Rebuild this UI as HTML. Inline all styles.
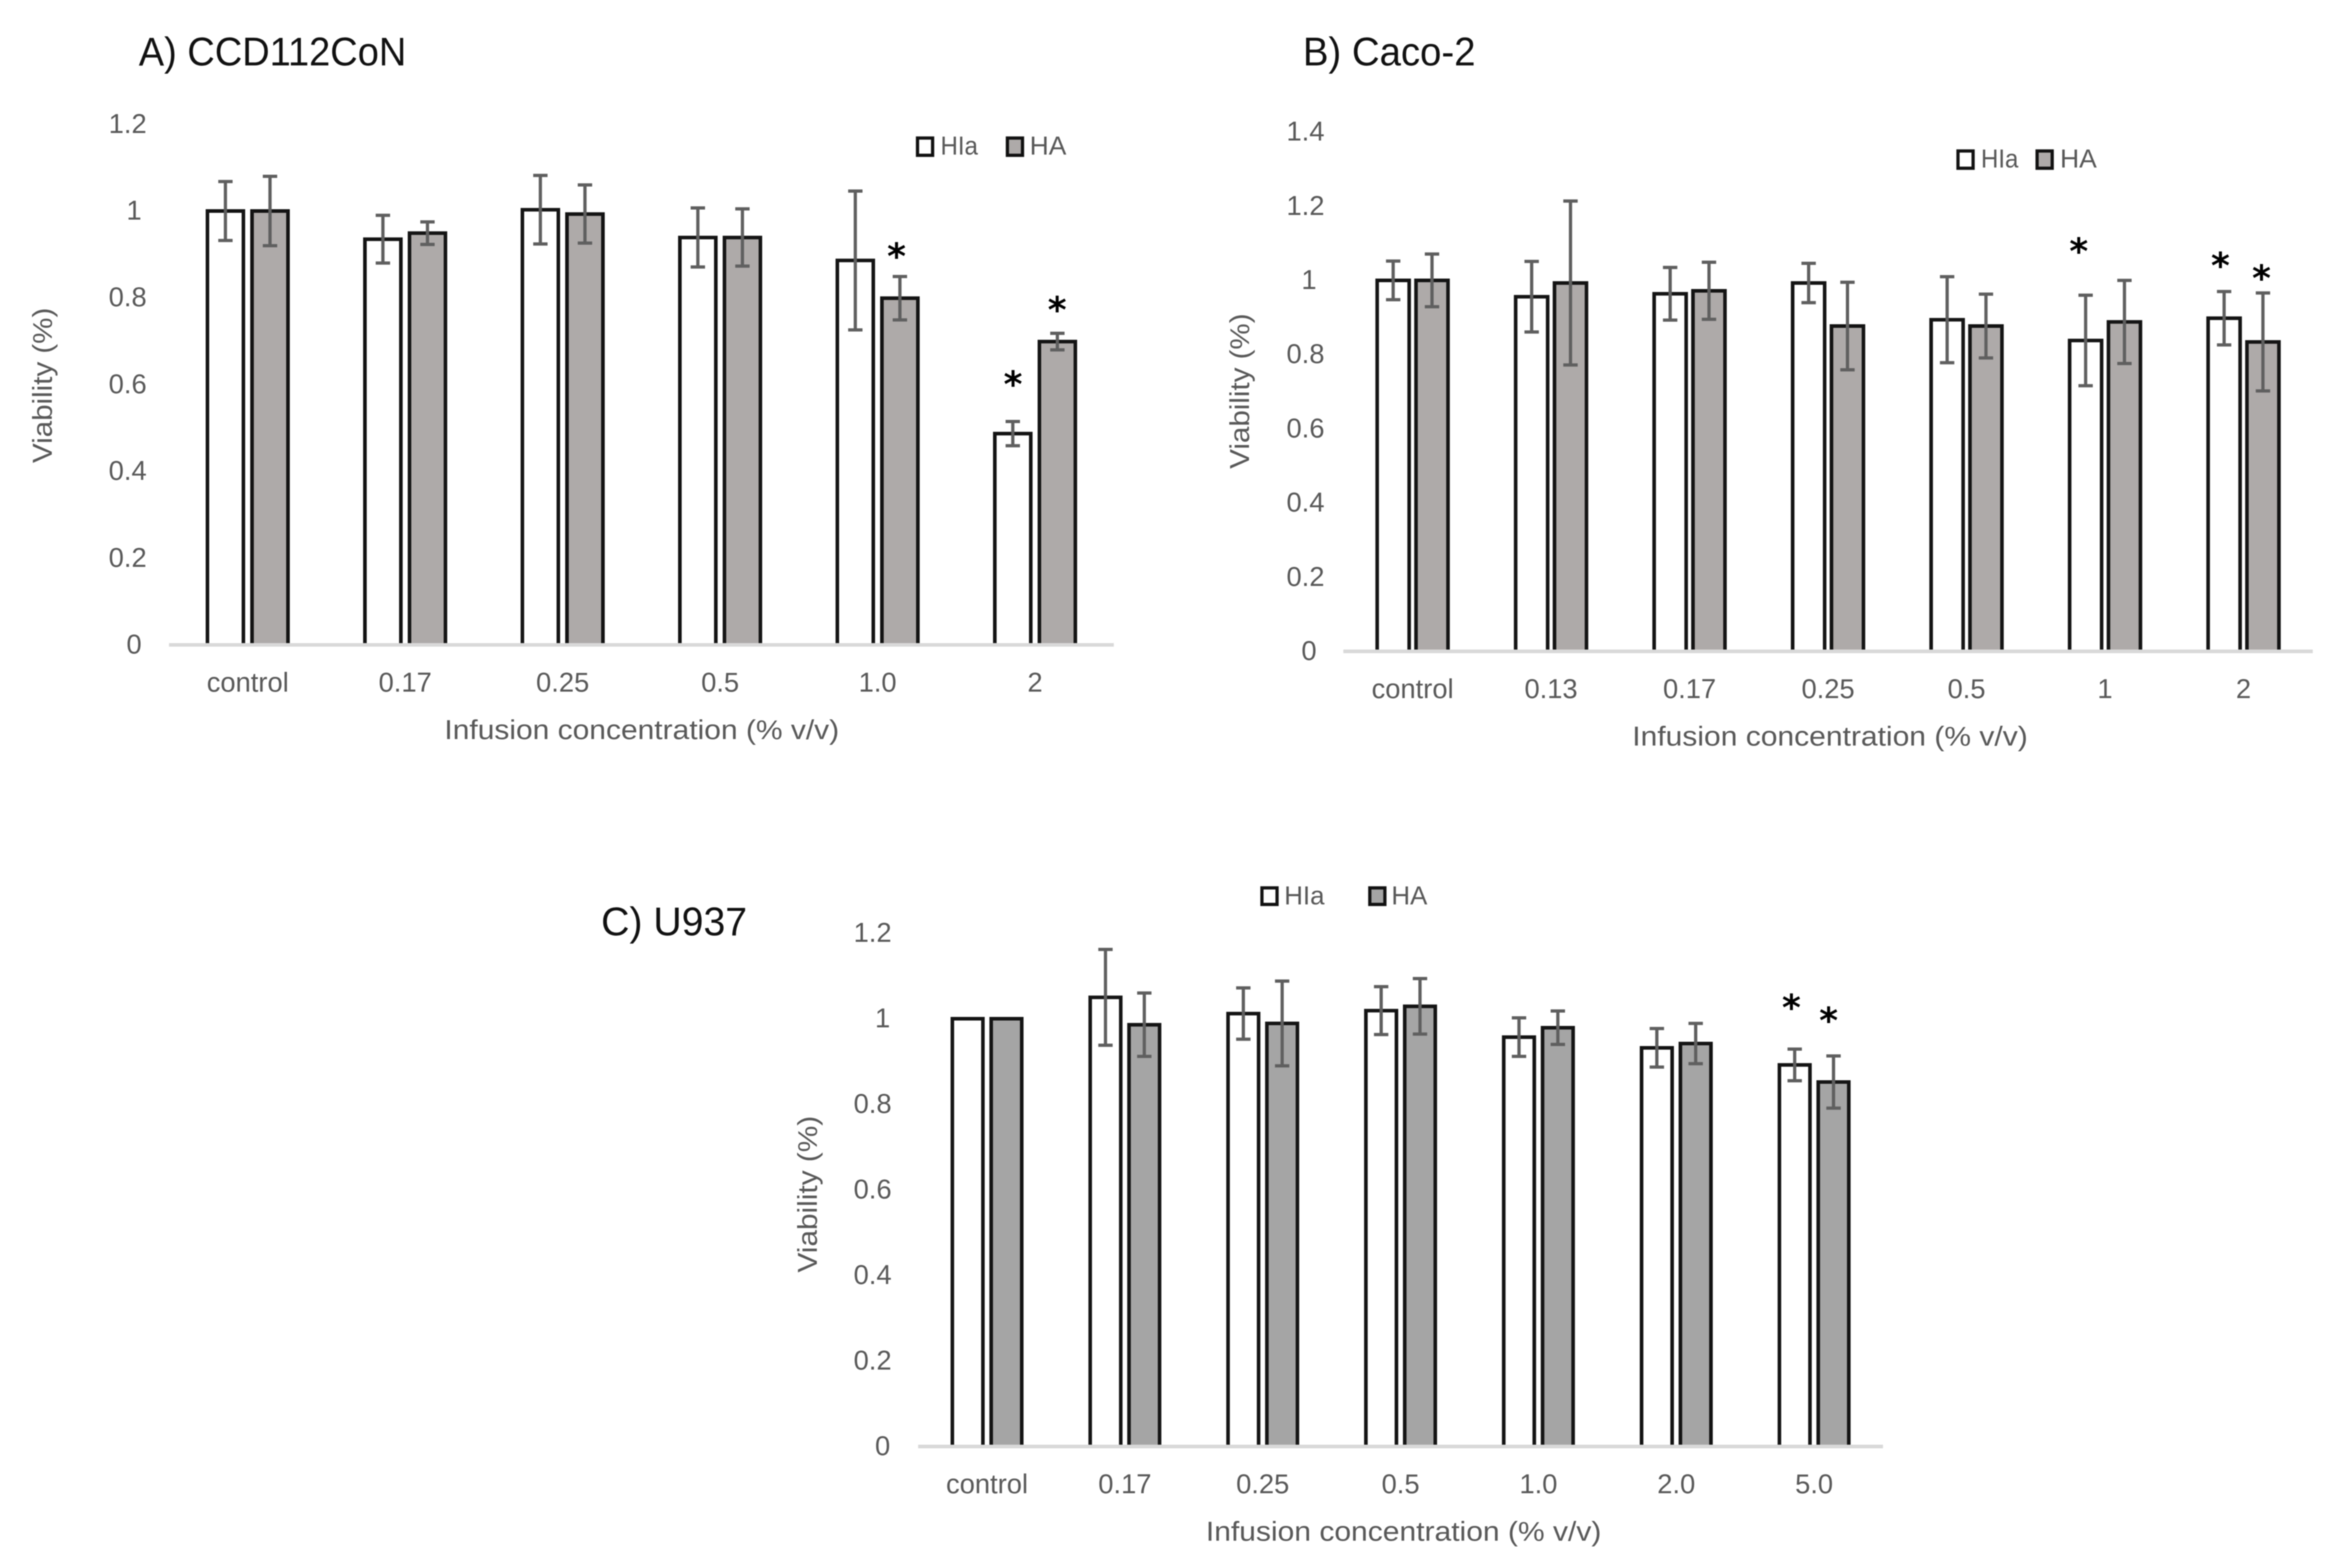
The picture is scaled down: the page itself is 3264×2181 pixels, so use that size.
<!DOCTYPE html>
<html lang="en">
<head>
<meta charset="utf-8">
<title>Viability charts</title>
<style>
html,body{margin:0;padding:0;background:#fff;width:3264px;height:2181px;overflow:hidden}
svg{display:block;filter:blur(0.7px)}
text{font-family:"Liberation Sans",sans-serif}
.title{font-size:56px;fill:#111}
.axt{font-size:38px;fill:#595959}
.leg{font-size:36px;fill:#595959}
</style>
</head>
<body>
<svg id="figure" width="3264" height="2181" viewBox="0 0 3264 2181" xmlns="http://www.w3.org/2000/svg">
  <rect width="3264" height="2181" fill="#ffffff"/>

  <text class="title" x="193" y="91" textLength="372" lengthAdjust="spacingAndGlyphs">A) CCD112CoN</text>
  <text class="title" x="1812" y="91" textLength="240" lengthAdjust="spacingAndGlyphs">B) Caco-2</text>
  <text class="title" x="836" y="1301" textLength="203" lengthAdjust="spacingAndGlyphs">C) U937</text>

  <text class="axt" x="618" y="1028" textLength="549" lengthAdjust="spacingAndGlyphs">Infusion concentration (% v/v)</text>
  <text class="axt" x="2270" y="1037" textLength="550" lengthAdjust="spacingAndGlyphs">Infusion concentration (% v/v)</text>
  <text class="axt" x="1677" y="2143" textLength="550" lengthAdjust="spacingAndGlyphs">Infusion concentration (% v/v)</text>

  <text class="axt" transform="translate(72 644) rotate(-90)" textLength="216" lengthAdjust="spacingAndGlyphs">Viability (%)</text>
  <text class="axt" transform="translate(1737 652) rotate(-90)" textLength="216" lengthAdjust="spacingAndGlyphs">Viability (%)</text>
  <text class="axt" transform="translate(1136 1770) rotate(-90)" textLength="218" lengthAdjust="spacingAndGlyphs">Viability (%)</text>

  <g>
    <rect x="1276" y="192" width="21" height="24" fill="#fff" stroke="#111" stroke-width="4.5"/>
    <text class="leg" x="1308" y="215" textLength="52" lengthAdjust="spacingAndGlyphs">HIa</text>
    <rect x="1401" y="192" width="21" height="24" fill="#aeaaa9" stroke="#111" stroke-width="4.5"/>
    <text class="leg" x="1432" y="215" textLength="51" lengthAdjust="spacingAndGlyphs">HA</text>
  </g>
  <g>
    <rect x="2723" y="210" width="21" height="24" fill="#fff" stroke="#111" stroke-width="4.5"/>
    <text class="leg" x="2755" y="233" textLength="52" lengthAdjust="spacingAndGlyphs">HIa</text>
    <rect x="2833" y="210" width="21" height="24" fill="#aeaaa9" stroke="#111" stroke-width="4.5"/>
    <text class="leg" x="2865" y="233" textLength="51" lengthAdjust="spacingAndGlyphs">HA</text>
  </g>
  <g>
    <rect x="1755" y="1235" width="21" height="23" fill="#fff" stroke="#111" stroke-width="4.5"/>
    <text class="leg" x="1786" y="1258" textLength="56" lengthAdjust="spacingAndGlyphs">HIa</text>
    <rect x="1905" y="1235" width="21" height="23" fill="#a5a5a5" stroke="#111" stroke-width="4.5"/>
    <text class="leg" x="1935" y="1258" textLength="50" lengthAdjust="spacingAndGlyphs">HA</text>
  </g>
</svg>
<script>
// Panel A data
const aCategories = ['control', '0.17', '0.25', '0.5', '1.0', '2'];
const aTicks = ['0', '0.2', '0.4', '0.6', '0.8', '1', '1.2'];
const aHIa = [1.0, 0.935, 1.003, 0.939, 0.886, 0.487];
const aHA = [1.0, 0.949, 0.993, 0.939, 0.799, 0.699];
const aHIaErr = [0.068, 0.055, 0.079, 0.068, 0.16, 0.028];
const aHAErr = [0.08, 0.026, 0.067, 0.066, 0.05, 0.019];
const aStarCats = [4.12, 4.86, 5.14];
const aStarLevels = [0.91, 0.615, 0.786];

// Panel B data
const bCategories = ['control', '0.13', '0.17', '0.25', '0.5', '1', '2'];
const bTicks = ['0', '0.2', '0.4', '0.6', '0.8', '1', '1.2', '1.4'];
const bHIa = [1.0, 0.956, 0.964, 0.993, 0.894, 0.838, 0.898];
const bHA = [1.0, 0.993, 0.972, 0.877, 0.877, 0.888, 0.834];
const bHIaErr = [0.052, 0.095, 0.071, 0.053, 0.116, 0.122, 0.072];
const bHAErr = [0.071, 0.221, 0.077, 0.118, 0.086, 0.112, 0.132];
const bStarCats = [4.81, 5.833, 6.13];
const bStarLevels = [1.095, 1.056, 1.022];

// Panel C data
const cCategories = ['control', '0.17', '0.25', '0.5', '1.0', '2.0', '5.0'];
const cTicks = ['0', '0.2', '0.4', '0.6', '0.8', '1', '1.2'];
const cHIa = [1.0, 1.05, 1.012, 1.019, 0.957, 0.932, 0.892];
const cHA = [1.0, 0.986, 0.989, 1.029, 0.979, 0.942, 0.852];
const cHIaErr = [0, 0.112, 0.06, 0.056, 0.045, 0.045, 0.037];
const cHAErr = [0, 0.074, 0.099, 0.065, 0.039, 0.047, 0.061];
const cStarCats = [5.835, 6.105];
const cStarLevels = [1.04, 1.01];

const NS = 'http://www.w3.org/2000/svg';
const svg = document.getElementById('figure');

function make(tag, attrs, parent, text) {
  const el = document.createElementNS(NS, tag);
  for (const k in attrs) el.setAttribute(k, attrs[k]);
  if (text !== undefined) el.textContent = text;
  parent.appendChild(el);
  return el;
}

function drawPanel(o) {
  const xPos = c => o.cat0 + c * o.pitch;
  const yPos = v => o.base - v * o.unit;
  const g = make('g', {}, svg);
  
  

  // y tick labels
  o.ticks.forEach(t => {
    const v = parseFloat(t);
    const right = t.length > 1 ? o.tickRightLong : o.tickRightShort;
    const el = make('text', {x: right, y: yPos(v) + o.tickDy, 'text-anchor': 'end', 'font-size': 38, fill: '#595959'}, g, t);
    
    
  });

  // x tick labels
  o.categories.forEach((c, i) => {
    const el = make('text', {x: xPos(i), y: o.catY, 'text-anchor': 'middle', 'font-size': 38, fill: '#595959'}, g, c);
    
    
  });

  // bars
  [[o.hia, '#ffffff', -1], [o.ha, o.gray, 1]].forEach(([vals, fill, side]) => {
    vals.forEach((v, i) => {
      const cx = xPos(i) + side * o.offset;
      const x0 = cx - o.barW / 2, x1 = cx + o.barW / 2, y = yPos(v);
      const bar = make('path', {d: `M${x0} ${o.base}V${y}H${x1}V${o.base}`, fill: fill, stroke: '#141414', 'stroke-width': 5}, g);
      
      
    });
  });

  // error bars
  [[o.hia, o.hiaErr, -1], [o.ha, o.haErr, 1]].forEach(([vals, errs, side]) => {
    vals.forEach((v, i) => {
      if (!errs[i]) return;
      const cx = xPos(i) + side * o.offset;
      const t = yPos(v + errs[i]), b = yPos(v - errs[i]);
      const e = make('path', {d: `M${cx} ${t}V${b}M${cx - 10} ${t}H${cx + 10}M${cx - 10} ${b}H${cx + 10}`, fill: 'none', stroke: '#5f5f5f', 'stroke-width': 4.5}, g);
      
      
    });
  });

  // x axis line
  const axis = make('line', {x1: o.cat0 - o.pitch / 2, x2: o.cat0 + (o.categories.length - 0.5) * o.pitch, y1: o.base, y2: o.base, stroke: '#d9d9d9', 'stroke-width': 5}, g);
  
  

  // significance asterisks
  o.starCats.forEach((c, i) => {
    const s = make('text', {x: xPos(c), y: yPos(o.starLevels[i]) + 26, 'text-anchor': 'middle', 'font-size': 50, 'font-weight': 'bold', fill: '#000', style: 'font-family:"DejaVu Sans",sans-serif'}, g, '*');
    
    
  });
}

drawPanel({categories: aCategories, ticks: aTicks, hia: aHIa, ha: aHA, hiaErr: aHIaErr, haErr: aHAErr,
  starCats: aStarCats, starLevels: aStarLevels, gray: '#aeaaa9',
  cat0: 344.5, pitch: 219, base: 897, unit: 603.5, barW: 50, offset: 31,
  tickRightLong: 204, tickRightShort: 197, tickDy: 12, catY: 962});
drawPanel({categories: bCategories, ticks: bTicks, hia: bHIa, ha: bHA, hiaErr: bHIaErr, haErr: bHAErr,
  starCats: bStarCats, starLevels: bStarLevels, gray: '#aeaaa9',
  cat0: 1964.5, pitch: 192.6, base: 906, unit: 516, barW: 44.5, offset: 27,
  tickRightLong: 1842, tickRightShort: 1831, tickDy: 12, catY: 971});
drawPanel({categories: cCategories, ticks: cTicks, hia: cHIa, ha: cHA, hiaErr: cHIaErr, haErr: cHAErr,
  starCats: cStarCats, starLevels: cStarLevels, gray: '#a5a5a5',
  cat0: 1372.7, pitch: 191.7, base: 2012, unit: 595, barW: 42.5, offset: 27,
  tickRightLong: 1240, tickRightShort: 1238, tickDy: 12, catY: 2077});
</script>
</body>
</html>
